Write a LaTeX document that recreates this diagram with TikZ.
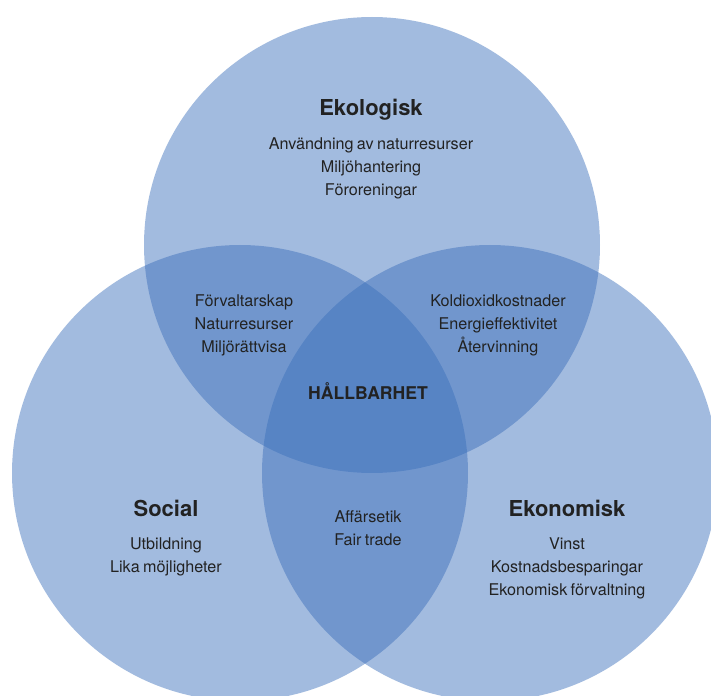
\documentclass[tikz,border=0pt]{standalone}
\usepackage{fontspec}
\setmainfont[WordSpace=0.75]{TeX Gyre Heros}
\definecolor{vennblue}{RGB}{58,110,186}
\definecolor{textgray}{RGB}{34,34,34}
\tikzset{
  venn/.style={fill=vennblue, fill opacity=0.47},
  title/.style={font=\fontsize{12.5}{14}\selectfont\bfseries, text=textgray},
  items/.style={font=\fontsize{9.2}{13.2}\selectfont, text=textgray, align=center, inner sep=0pt},
}
\begin{document}
\begin{tikzpicture}
    \useasboundingbox (0,0) rectangle (14.22,13.9);
    \clip (0,0) rectangle (14.22,13.9);

    \coordinate (eko) at (7.44,9.0);
    \coordinate (soc) at (4.80,4.44);
    \coordinate (ekn) at (9.80,4.44);

    \fill[venn] (eko) circle (4.56);
    \fill[venn] (soc) circle (4.56);
    \fill[venn] (ekn) circle (4.56);

    \node[title] (ekotitle) at (7.42,11.70) {Ekologisk};
    \node[items] (ekolist) at (7.42,10.53) {Användning av naturresurser\\Miljöhantering\\Föroreningar};

    \node[items] (ekosoc) at (4.88,7.39) {Förvaltarskap\\Naturresurser\\Miljörättvisa};
    \node[items] (ekoekn) at (9.96,7.39) {Koldioxidkostnader\\Energieffektivitet\\Återvinning};

    \node[title, font=\fontsize{10}{12}\selectfont\bfseries] (mitt) at (7.36,6.07) {HÅLLBARHET};

    \node[title] (soctitle) at (3.32,3.73) {Social};
    \node[items] (soclist) at (3.32,2.76) {Utbildning\\Lika möjligheter};

    \node[items] (socekn) at (7.36,3.34) {Affärsetik\\Fair trade};

    \node[title] (ekntitle) at (11.34,3.73) {Ekonomisk};
    \node[items] (eknlist) at (11.34,2.53) {Vinst\\Kostnadsbesparingar\\Ekonomisk förvaltning};
\end{tikzpicture}
\end{document}
